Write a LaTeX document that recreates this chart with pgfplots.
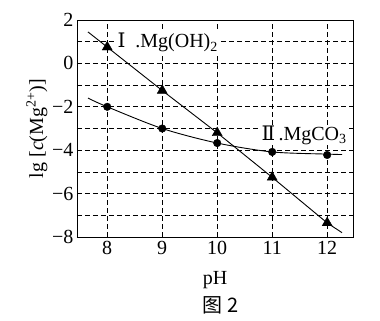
\documentclass[border=0pt]{standalone}
\usepackage{fontspec}
\setmainfont{Liberation Serif}
\newfontfamily\cjk{Noto Sans CJK SC}
\newfontfamily\romfont{DejaVu Serif}
\usepackage{pgfplots}
\pgfplotsset{compat=1.18}
\begin{document}
\begin{tikzpicture}
\begin{axis}[
  scale only axis, width=276pt, height=217pt,
  xmin=7.45, xmax=12.47, ymin=-8, ymax=2,
  xtick={8,9,10,11,12},
  ytick={-8,-6,-4,-2,0,2},
  yticklabels={−8,−6,−4,−2,0,2},
  minor ytick={-7,-5,-3,-1,1},
  grid=both,
  major grid style={black, line width=0.8pt, dash pattern=on 5pt off 3pt},
  minor grid style={black, line width=0.8pt, dash pattern=on 5pt off 3pt},
  axis line style={line width=0.8pt},
  tick align=inside, xtick pos=bottom, ytick pos=left,
  major tick length=4pt, minor tick length=0pt,
  x tick style={black, line width=0.8pt},
  y tick style={draw=none},
  /pgf/number format/assume math mode=true,
  tick label style={font=\fontsize{20}{20}\selectfont},
  label style={font=\fontsize{20}{20}\selectfont},
  xticklabel style={yshift=-1pt},
  xlabel={pH},
  xlabel style={at={(axis description cs:0.5,-0.2)}, anchor=center},
  ylabel={lg [\textit{c}(Mg\textsuperscript{2+})]},
  ylabel style={at={(axis description cs:-0.145,0.5)}, anchor=center, rotate=0},
  clip=false,
]
\node[fill=white, inner sep=1pt, font=\fontsize{20}{20}\selectfont] at (axis cs:9.1,0.95) {{\romfont Ⅰ}\enspace.Mg(OH)\textsubscript{2}};
\node[fill=white, inner sep=1pt, font=\fontsize{20}{20}\selectfont] at (axis cs:11.58,-3.3) {{\romfont Ⅱ}\,.MgCO\textsubscript{3}};
\addplot[black, line width=0.9pt] coordinates {(7.65,1.45) (8,0.75) (9,-1.25) (10,-3.2) (11,-5.25) (12,-7.35) (12.27,-7.8)};
\addplot[black, only marks, mark=triangle*, mark size=5.8pt] coordinates {(8,0.75) (9,-1.25) (10,-3.2) (11,-5.25) (12,-7.35)};
\addplot[black, line width=0.9pt, smooth, tension=0.5] coordinates {(7.65,-1.6) (8,-2) (9,-3) (10,-3.67) (11,-4.08) (12,-4.18) (12.27,-4.2)};
\addplot[black, only marks, mark=*, mark size=3.8pt] coordinates {(8,-2) (9,-3) (10,-3.67) (11,-4.08) (12,-4.22)};
\node[font=\cjk\fontsize{20}{20}\selectfont] at (axis description cs:0.52,-0.315) {图 2};
\end{axis}
\pgfresetboundingbox
\path[use as bounding box] (current axis.south west) ++(-77pt,-84pt) rectangle ([shift={(27pt,20pt)}]current axis.north east);
\end{tikzpicture}
\end{document}
